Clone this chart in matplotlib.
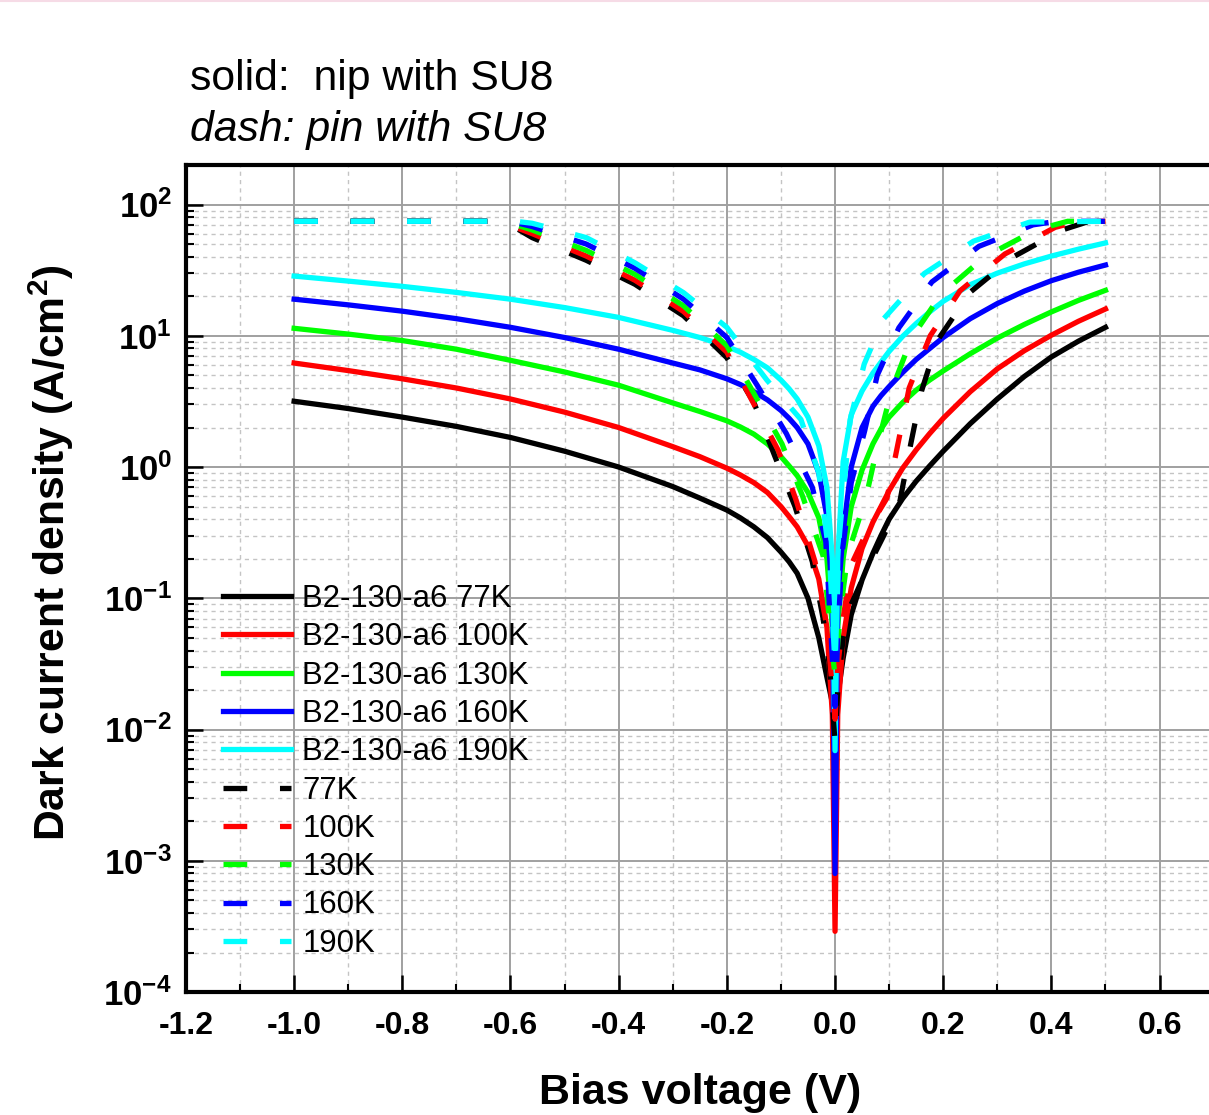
import matplotlib
matplotlib.use('Agg')
import numpy as np
import matplotlib.pyplot as plt
from matplotlib.ticker import MultipleLocator, FixedLocator, LogLocator, FuncFormatter, NullFormatter
from matplotlib.lines import Line2D

plt.rcParams['font.family'] = ['Liberation Sans', 'DejaVu Sans']
plt.rcParams['mathtext.fontset'] = 'custom'
plt.rcParams['mathtext.rm'] = 'Liberation Sans:bold'
plt.rcParams['mathtext.bf'] = 'Liberation Sans:bold'
plt.rcParams['mathtext.it'] = 'Liberation Sans:bold:italic'
plt.rcParams['axes.unicode_minus'] = False

# nip with SU8 (solid), common bias grid
v_nip = [-1.0, -0.9, -0.8, -0.7, -0.6, -0.5, -0.4, -0.3, -0.25, -0.2, -0.175, -0.15,
         -0.125, -0.1, -0.085, -0.07, -0.05, -0.03, -0.015, -0.005, 0.0,
         0.005, 0.015, 0.03, 0.05, 0.07, 0.085, 0.1, 0.125, 0.15, 0.175, 0.2,
         0.25, 0.3, 0.35, 0.4, 0.45, 0.5]
j_nip_77 = [3.17, 2.79, 2.40, 2.04, 1.68, 1.32, 1.0, 0.71, 0.58, 0.47, 0.41, 0.35,
            0.29, 0.225, 0.19, 0.155, 0.10, 0.05, 0.025, 0.016, 0.013,
            0.018, 0.035, 0.075, 0.138, 0.22, 0.30, 0.40, 0.575, 0.78, 1.02, 1.32,
            2.14, 3.3, 4.9, 6.9, 9.1, 11.6]
j_nip_100 = [6.2, 5.43, 4.70, 4.0, 3.3, 2.62, 2.0, 1.43, 1.2, 0.98, 0.87, 0.76,
             0.64, 0.5, 0.42, 0.35, 0.25, 0.14, 0.06, 0.013, 0.00029,
             0.013, 0.05, 0.12, 0.24, 0.38, 0.5, 0.66, 0.98, 1.35, 1.8, 2.35,
             3.75, 5.6, 7.7, 10.1, 12.9, 16.0]
j_nip_130 = [11.4, 10.3, 9.2, 7.9, 6.5, 5.3, 4.2, 3.08, 2.65, 2.25, 2.02, 1.78,
             1.5, 1.2, 1.02, 0.86, 0.64, 0.41, 0.2, 0.06, 0.01,
             0.06, 0.2, 0.5, 0.95, 1.5, 1.95, 2.4, 3.1, 3.85, 4.6, 5.4,
             7.3, 9.6, 12.2, 15.2, 18.6, 22.2]
j_nip_160 = [19.0, 17.2, 15.4, 13.5, 11.6, 9.7, 7.9, 6.2, 5.5, 4.7, 4.25, 3.75,
             3.25, 2.7, 2.35, 2.0, 1.5, 0.9, 0.42, 0.1, 0.0008,
             0.1, 0.32, 1.0, 2.0, 2.9, 3.5, 4.1, 5.25, 6.6, 8.0, 9.7,
             13.5, 17.6, 21.9, 26.3, 30.5, 34.6]
j_nip_190 = [28.5, 26.1, 23.8, 21.4, 19.0, 16.4, 13.8, 11.0, 9.7, 8.3, 7.5, 6.6,
             5.7, 4.6, 3.95, 3.3, 2.4, 1.45, 0.7, 0.2, 0.0069,
             0.2, 1.1, 2.5, 3.8, 5.2, 6.3, 7.6, 9.9, 12.4, 15.2, 18.3,
             24.5, 30.0, 35.3, 40.5, 45.7, 51.0]

# pin with SU8 (dashed)
v_pin_77 = [-1.0, -0.63, -0.6, -0.56, -0.46, -0.37, -0.28, -0.2, -0.15, -0.111,
            -0.074, -0.042, -0.022, -0.01, 0.0, 0.005, 0.015, 0.03, 0.06, 0.09,
            0.12, 0.14, 0.16, 0.19, 0.25, 0.33, 0.42, 0.47, 0.5]
j_pin_77 = [74.5, 74.5, 70, 56, 37.6, 24.7, 14.2, 6.8, 3.1, 1.2,
            0.5, 0.19, 0.07, 0.03, 0.008, 0.02, 0.05, 0.09, 0.17, 0.3,
            0.55, 1.5, 3.8, 9.3, 21.5, 40, 64, 74.5, 74.5]
v_pin_100 = [-1.0, -0.62, -0.56, -0.46, -0.37, -0.28, -0.2, -0.155, -0.105, -0.072,
             -0.037, -0.015, 0.0, 0.005, 0.015, 0.03, 0.06, 0.096, 0.117, 0.137,
             0.176, 0.231, 0.314, 0.407, 0.45, 0.5]
j_pin_100 = [74.5, 74.5, 60, 40.5, 26.5, 15.3, 7.5, 3.3, 1.34, 0.56,
             0.19, 0.06, 0.012, 0.03, 0.07, 0.18, 0.33, 0.58, 1.55, 4.0,
             10, 22, 42, 67, 74.5, 74.5]
v_pin_130 = [-1.0, -0.61, -0.56, -0.46, -0.37, -0.28, -0.2, -0.151, -0.098, -0.06,
             -0.022, 0.0, 0.01, 0.024, 0.057, 0.08, 0.105, 0.142, 0.196, 0.277,
             0.371, 0.43, 0.5]
j_pin_130 = [74.5, 74.5, 64, 44.7, 29.4, 16.9, 8.4, 3.7, 1.5, 0.6,
             0.21, 0.025, 0.08, 0.22, 0.58, 1.55, 3.9, 9.7, 20.7, 40,
             64, 74.5, 74.5]
v_pin_160 = [-1.0, -0.6, -0.56, -0.46, -0.37, -0.28, -0.2, -0.144, -0.09, -0.042,
             -0.017, 0.0, 0.005, 0.013, 0.03, 0.055, 0.078, 0.118, 0.179, 0.266,
             0.366, 0.41, 0.5]
j_pin_160 = [74.5, 74.5, 68, 50, 32.7, 19, 9.7, 4.2, 1.8, 0.7,
             0.27, 0.015, 0.05, 0.22, 0.76, 1.9, 5.0, 11.5, 25.7, 48,
             70, 74.5, 74.5]
v_pin_190 = [-1.0, -0.59, -0.56, -0.46, -0.37, -0.28, -0.2, -0.126, -0.063, -0.03,
             -0.01, 0.0, 0.008, 0.028, 0.054, 0.09, 0.165, 0.256, 0.36, 0.5]
j_pin_190 = [74.5, 74.5, 72, 56, 36, 21.3, 11.6, 4.6, 2.3, 0.9,
             0.2, 0.03, 0.3, 2.3, 6.1, 13.5, 29.8, 52.6, 73.5, 74.5]

temps = ['77K', '100K', '130K', '160K', '190K']
colors = ['#000000', '#ff0000', '#00ff00', '#0000ff', '#00ffff']
nip = [j_nip_77, j_nip_100, j_nip_130, j_nip_160, j_nip_190]
pin = [(v_pin_77, j_pin_77), (v_pin_100, j_pin_100), (v_pin_130, j_pin_130),
       (v_pin_160, j_pin_160), (v_pin_190, j_pin_190)]
x_ticks = [-1.2, -1.0, -0.8, -0.6, -0.4, -0.2, 0.0, 0.2, 0.4, 0.6]
y_ticks = [1e-4, 1e-3, 1e-2, 1e-1, 1e0, 1e1, 1e2]

fig = plt.figure(figsize=(12.09, 11.15), dpi=100)
ax = fig.add_axes([0.1538, 0.1103, 0.8948, 0.7417])

lw = 3.8
for j, c, t in zip(nip, colors, temps):
    ax.plot(v_nip, j, color=c, lw=lw, label='B2-130-a6 ' + t)
for (v, j), c, t in zip(pin, colors, temps):
    ax.plot(v, j, color=c, lw=lw, dashes=(4.5, 6.2), label=t)

ax.set_yscale('log')
ax.set_xlim(-1.2, 0.8)
ax.set_ylim(1e-4, 200)

ax.xaxis.set_major_locator(FixedLocator(x_ticks))
ax.xaxis.set_minor_locator(MultipleLocator(0.1))
ax.xaxis.set_major_formatter(FuncFormatter(lambda x, p: '%.1f' % (round(x, 1) + 0.0)))
ax.yaxis.set_major_locator(FixedLocator(y_ticks))
ax.yaxis.set_minor_locator(LogLocator(base=10, subs=np.arange(2, 10), numticks=100))
ax.yaxis.set_minor_formatter(NullFormatter())
ax.yaxis.set_major_formatter(FuncFormatter(lambda y, p: r'$10^{%d}$' % int(round(np.log10(y)))))

ax.set_axisbelow(True)
ax.grid(which='major', color='#a0a0a0', lw=1.4, ls='-')
ax.grid(which='minor', color='#c4c4c4', lw=1.0, ls=(0, (3, 3)))

ax.tick_params(which='both', direction='in', top=False, right=False)
ax.tick_params(which='major', length=12, width=1.8)
ax.tick_params(which='minor', length=6, width=1.5)
ax.tick_params(axis='x', which='major', pad=14, labelsize=23)
ax.tick_params(axis='y', which='major', pad=10, labelsize=25)
for s in ax.spines.values():
    s.set_linewidth(3)
plt.setp(ax.get_xticklabels(), fontweight='bold')

ax.set_xlabel('Bias voltage (V)', fontsize=31, fontweight='bold')
ax.xaxis.set_label_coords(0.475, -0.098)
ax.set_ylabel('Dark current density (A/cm$^{2}$)', fontsize=30.7, fontweight='bold')
ax.yaxis.set_label_coords(-0.102, 0.532)

ax.legend(loc='upper left', bbox_to_anchor=(223 / 1209, (1115 - 584) / 1115),
          bbox_transform=fig.transFigure, frameon=False, fontsize=22.4,
          handlelength=2.2, handletextpad=0.35, labelspacing=0.267,
          borderpad=0, borderaxespad=0)

fig.text(190 / 1209, 1 - 90 / 1115, 'solid:  nip with SU8', fontsize=30.8, va='baseline')
fig.text(190 / 1209, 1 - 141 / 1115, 'dash: pin with SU8', fontsize=30.8,
         style='italic', va='baseline')
fig.add_artist(Line2D([0, 1], [1 - 1 / 1115, 1 - 1 / 1115], color='#f6dbe6', lw=1.5))

fig.savefig('out.png', dpi=100)
